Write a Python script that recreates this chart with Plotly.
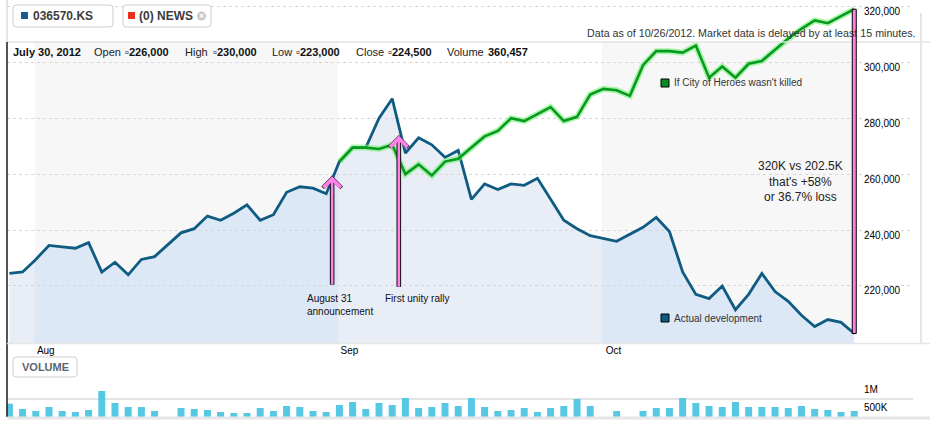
import pandas as pd
import plotly.graph_objects as go

# ---- data -----------------------------------------------------------------
ticker = "036570.KS"
dates = pd.bdate_range("2012-07-30", "2012-10-26")
holidays = ["2012-08-15", "2012-10-01", "2012-10-03"]

# actual close (None on market holidays)
actual = [224500, 225000, 229500, 234500, 234000, 233500, 235500, 225000, 228500, 224000,
          229500, 230500, None, 239000, 240500, 245000, 243500, 246000, 249000, 243500,
          245500, 253500, 255500, 255000, 253000, 264500, 269500, 269500, 280000, 287000,
          267500, 273000, 270500, 266000, 268500, 251000, 256500, 254500, 256500, 256000,
          258500, 251000, 243500, 240500, 238000, None, 236000, None, 241000, 244500,
          239500, 225000, 217000, 215500, 220000, 211500, 217000, 224500, 218000, 214500,
          209500, 205500, 208000, 207000, 203000]

# "If City of Heroes wasn't killed", starting 2012-09-03
whatif_start = "2012-09-03"
whatif = [264500, 269500, 269500, 269000, 270500, 260000, 263500, 259500, 264500, 265500,
          269500, 273500, 275500, 280000, 279000, 281500, 284000, 279000, 280500, 288500,
          290500, 290000, 288000, 299000, 304000, 304000, 303500, 306000, 294500, 298500,
          294500, 299500, 300500, 304500, 308500, 312000, 315000, 314000, 316500, 319000]

volume = [360457, 216000, 162000, 270000, 162000, 135000, 189000, 703000, 378000, 270000,
          270000, 162000, None, 243000, 216000, 189000, 135000, 108000, 108000, 243000,
          162000, 297000, 270000, 162000, 135000, 324000, 405000, 216000, 378000, 324000,
          514000, 243000, 270000, 378000, 297000, 514000, 270000, 162000, 189000, 243000,
          135000, 243000, 297000, 486000, 297000, None, 162000, None, 162000, 243000,
          243000, 514000, 378000, 297000, 270000, 405000, 270000, 270000, 270000, 243000,
          297000, 216000, 189000, 135000, 162000]

info_date = "July 30, 2012"
info_labels = ["Open", "High", "Low", "Close", "Volume"]
info_values = [226000, 230000, 223000, 224500, 360457]

price_ticks = [220000, 240000, 260000, 280000, 300000, 320000]
volume_ticks = [500000, 1000000]
volume_ticktext = ["500K", "1M"]

# ---- layout helpers ------------------------------------------------------
W, H = 930, 422
FONT = "Liberation Sans, Arial, sans-serif"
BLUE = "#0f5b82"
GREEN = "#069a1e"
PINK = "#ff80e6"
FILL_LIGHT = "#e9eef6"
FILL_DARK = "#dce8f6"
BAND = "#f7f7f7"


def px(x):
    return x / W


def py(y):
    return 1 - y / H


idx = list(range(len(dates)))
green_x = idx[list(dates).index(pd.Timestamp(whatif_start)):]

XD = [px(7), px(913)]
XR = [-0.18, 68.45]
YD = [py(343), 1.0]
YR = [199600, 322300]
VD = [py(417), py(380)]


def ix_paper(i):
    return XD[0] + (i - XR[0]) / (XR[1] - XR[0]) * (XD[1] - XD[0])


# month starts (first trading day of each month)
month_idx = [i for i in idx[1:] if dates[i].month != dates[i - 1].month]
month_txt = [dates[i].strftime("%b") for i in month_idx]
edges = [m - 0.1 for m in month_idx]
aug_band = [edges[0], edges[1]]
oct_band = [edges[2], idx[-1]]

fig = go.Figure()

# light fill under the whole series
fig.add_trace(go.Scatter(x=idx, y=actual, mode="lines", line=dict(width=0),
                         fill="tozeroy", fillcolor=FILL_LIGHT, connectgaps=True,
                         hoverinfo="skip", showlegend=False, xaxis="x", yaxis="y"))
# darker fill inside the shaded months (clipped by their own subplots)
for ax_n in (2, 3):
    fig.add_trace(go.Scatter(x=idx, y=actual, mode="lines", line=dict(width=0),
                             fill="tozeroy", fillcolor=FILL_DARK, connectgaps=True,
                             hoverinfo="skip", showlegend=False,
                             xaxis=f"x{ax_n}", yaxis=f"y{ax_n}"))

fig.add_trace(go.Scatter(x=idx, y=actual, mode="lines", connectgaps=True,
                         line=dict(color=BLUE, width=2.8), showlegend=False,
                         xaxis="x4", yaxis="y4"))
fig.add_trace(go.Scatter(x=green_x, y=whatif, mode="lines",
                         line=dict(color="rgba(120,240,120,0.6)", width=6),
                         showlegend=False, xaxis="x4", yaxis="y4"))
fig.add_trace(go.Scatter(x=green_x, y=whatif, mode="lines",
                         line=dict(color=GREEN, width=2.6), showlegend=False,
                         xaxis="x4", yaxis="y4"))

fig.add_trace(go.Bar(x=idx, y=volume, marker=dict(color="#56c8e4", line=dict(width=0)),
                     showlegend=False, xaxis="x5", yaxis="y5"))
# empty traces so the label-only axes get drawn
fig.add_trace(go.Scatter(x=[None], y=[None], xaxis="x4", yaxis="y6", showlegend=False,
                         hoverinfo="skip"))
fig.add_trace(go.Scatter(x=[None], y=[None], xaxis="x5", yaxis="y7", showlegend=False,
                         hoverinfo="skip"))

hidden = dict(visible=False, fixedrange=True, automargin=False)
label_axis = dict(side="right", anchor="free", position=px(863), ticks="",
                  showgrid=False, zeroline=False, showline=False, automargin=False,
                  ticklabelposition="outside", ticklabelstandoff=0,
                  tickfont=dict(size=10, color="#000"))
fig.update_layout(
    width=W, height=H,
    margin=dict(l=0, r=0, t=0, b=0, autoexpand=False),
    paper_bgcolor="white", plot_bgcolor="rgba(0,0,0,0)",
    font=dict(family=FONT, size=10, color="#111"),
    bargap=0.47,
    xaxis=dict(domain=XD, range=XR, **hidden),
    yaxis=dict(domain=YD, range=YR, **hidden),
    xaxis2=dict(domain=[ix_paper(aug_band[0]), ix_paper(aug_band[1])], range=aug_band,
                anchor="y2", **hidden),
    yaxis2=dict(domain=YD, range=YR, anchor="x2", **hidden),
    xaxis3=dict(domain=[ix_paper(oct_band[0]), ix_paper(oct_band[1])], range=oct_band,
                anchor="y3", **hidden),
    yaxis3=dict(domain=YD, range=YR, anchor="x3", **hidden),
    xaxis4=dict(domain=XD, range=XR, anchor="y4", showgrid=False, zeroline=False,
                tickvals=month_idx, ticktext=month_txt, ticks="", ticklabelshift=10,
                automargin=False, tickfont=dict(size=10, color="#000")),
    yaxis4=dict(domain=YD, range=YR, anchor="x4", side="right", tickvals=price_ticks,
                showticklabels=False, ticks="", zeroline=False, automargin=False,
                showgrid=True, gridcolor="#d6d6d6", griddash="dot", gridwidth=1),
    yaxis6=dict(overlaying="y4", range=YR, tickvals=price_ticks, tickformat=",d",
                ticklabelshift=5, **label_axis),
    xaxis5=dict(domain=XD, range=XR, anchor="y5", showticklabels=False, showgrid=False,
                zeroline=False, ticks="", automargin=False),
    yaxis5=dict(domain=VD, range=[0, 1000000], anchor="x5", side="right",
                tickvals=volume_ticks, showticklabels=False, ticks="", zeroline=False,
                automargin=False, gridcolor="#e4e4e4", gridwidth=1.5),
    yaxis7=dict(overlaying="y5", range=[0, 1000000], tickvals=volume_ticks,
                ticktext=volume_ticktext, ticklabelshift=9, **label_axis),
)

shapes = []
# shaded months
for b in (aug_band, oct_band):
    shapes.append(dict(type="rect", xref="x", yref="paper", x0=b[0], x1=b[1],
                       y0=py(343), y1=py(42), fillcolor=BAND, line=dict(width=0),
                       layer="below"))
# header area hides the gridlines above the chart
shapes.append(dict(type="rect", xref="x4", yref="paper", x0=XR[0], x1=idx[-1],
                   y0=py(42), y1=1, fillcolor="white", line=dict(width=0),
                   layer="between"))
# frame lines
for x0, y0, x1, y1, c, w in [
    (7, 42, 930, 42, "#e2e2e2", 1.5),
    (7, 0, 7, 42, "#dddddd", 1.5),
    (7, 42, 7, 417, "#1a1a1a", 1.5),
    (921, 13, 921, 343, "#e6e6e6", 2),
    (7, 343.5, 930, 343.5, "#e6e6e6", 1.5),
    (7, 418, 930, 418, "#e6e6e6", 3),
]:
    shapes.append(dict(type="line", xref="paper", yref="paper", x0=px(x0), y0=py(y0),
                       x1=px(x1), y1=py(y1), line=dict(color=c, width=w)))


def rrect(x0, y0, x1, y1, r=3):
    return (f"M {px(x0 + r)},{py(y0)} L {px(x1 - r)},{py(y0)} "
            f"Q {px(x1)},{py(y0)} {px(x1)},{py(y0 + r)} L {px(x1)},{py(y1 - r)} "
            f"Q {px(x1)},{py(y1)} {px(x1 - r)},{py(y1)} L {px(x0 + r)},{py(y1)} "
            f"Q {px(x0)},{py(y1)} {px(x0)},{py(y1 - r)} L {px(x0)},{py(y0 + r)} "
            f"Q {px(x0)},{py(y0)} {px(x0 + r)},{py(y0)} Z")


for box in [(13, 5, 113, 27), (123, 5, 211, 27), (13, 357, 77, 377)]:
    shapes.append(dict(type="path", xref="paper", yref="paper", path=rrect(*box),
                       fillcolor="white", line=dict(color="#cfcfcf", width=1)))
# small coloured squares
for x0, y0, c in [(21, 12, "#1a5a8a"), (128, 12, "#e8301c")]:
    shapes.append(dict(type="rect", xref="paper", yref="paper", x0=px(x0), x1=px(x0 + 7),
                       y0=py(y0), y1=py(y0 + 7), fillcolor=c, line=dict(width=0)))
shapes.append(dict(type="circle", xref="paper", yref="paper", x0=px(197), x1=px(206),
                   y0=py(11.5), y1=py(20.5), fillcolor="#c8c8c8", line=dict(width=0)))
for y0, c in [(79, "#0a8a22"), (314, BLUE)]:
    shapes.append(dict(type="rect", xref="paper", yref="paper", x0=px(661), x1=px(669),
                       y0=py(y0), y1=py(y0 + 8), fillcolor=c,
                       line=dict(color="#000", width=1)))
# gap between the two outcomes
shapes.append(dict(type="rect", xref="x4", yref="y4", xsizemode="pixel", xanchor=idx[-1],
                   x0=-2, x1=2, y0=actual[-1], y1=whatif[-1], fillcolor=PINK,
                   line=dict(color="#000", width=1), layer="above"))
fig.update_layout(shapes=shapes)

ann = []


def text(x, y, s, size=10, color="#222", xanchor="left", yanchor="middle", **kw):
    ann.append(dict(x=px(x), y=py(y), xref="paper", yref="paper", text=s, showarrow=False,
                    xanchor=xanchor, yanchor=yanchor, font=dict(size=size, color=color,
                                                               family=FONT), **kw))


text(31, 16, f"<b>{ticker}</b>", size=12, color="#3c3c3c")
text(137, 16, "<b>(0) NEWS</b>", size=12, color="#3c3c3c")
text(201.5, 16, "<b>×</b>", size=9, color="white", xanchor="center")
text(45, 367, "<b>VOLUME</b>", size=11, color="#5b6470", xanchor="center")

text(11, 52, f"<b>{info_date}</b>", size=11, color="#111")
label_x = [92, 183, 270, 354, 445]
value_x = [123, 211, 294, 386, 486]
for lab, val, lx, vx in zip(info_labels, info_values, label_x, value_x):
    prefix = "" if lab == "Volume" else "▫"
    text(lx, 52, lab, size=11, color="#222")
    text(vx, 52, f"<b>{prefix}{val:,}</b>", size=11, color="#111")

text(918, 33, "Data as of 10/26/2012. Market data is delayed by at least 15 minutes.",
     size=10.7, color="#333", xanchor="right")
text(672, 83, "If City of Heroes wasn't killed", size=10, color="#333")
text(672, 318, "Actual development", size=10, color="#333")
text(800, 181, "320K vs 202.5K<br>that's +58%<br>or 36.7% loss", size=12, color="#222",
     xanchor="center")
text(305, 291, "August 31<br>announcement", size=10, color="#111", yanchor="top",
     align="left")
text(383, 291, "First unity rally", size=10, color="#111", yanchor="top")

# arrows: (index, tip value, tail value)
arrows = [(24.45, 259500, 220000), (29.5, 274000, 219200)]
for xi, tip, tail in arrows:
    # black outline shaft, black outline head, pink arrow on top
    for col, w, s, head, so in [("#111", 4.6, 1.0, 0, 4), ("#111", 3.7, 0.98, 4, 0),
                                (PINK, 2.6, 1.3, 4, 0.6)]:
        ann.append(dict(x=xi, y=tip, ax=xi, ay=tail, xref="x4", yref="y4", axref="x4",
                        ayref="y4", text="", showarrow=True, arrowhead=head, arrowsize=s,
                        arrowwidth=w, arrowcolor=col, standoff=so))

fig.update_layout(annotations=ann)
fig.write_html("out.html", config={"displayModeBar": False},
               post_script="document.body.style.margin = '0px';")
